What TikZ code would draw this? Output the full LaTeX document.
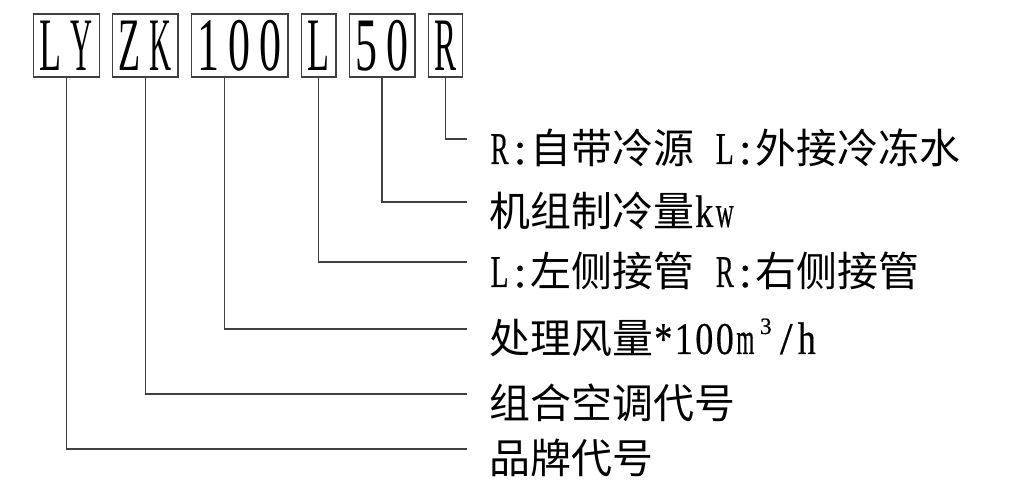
\documentclass[tikz,border=0pt]{standalone}
\usepackage{fontspec}
\usepackage{graphicx}
\setmainfont{Liberation Serif}
\newfontfamily\zhfont{Noto Sans CJK SC}
\newfontfamily\codefont{Liberation Serif}
\newfontfamily\latnfont{Liberation Serif}[Scale=1.11,FakeBold=0.5]
\usetikzlibrary{positioning}

% every letter sits in a cell of its own (half-width look),
% squeezed when it is wider than the cell allows
\newcommand\fitcell[3]{\sbox0{#3}\ifdim\wd0>#2\relax
  \makebox[#1]{\resizebox{#2}{\height}{#3}}\else\makebox[#1]{#3}\fi}
\ExplSyntaxOn
\NewDocumentCommand\boxtext{m}{\tl_map_inline:nn{#1}{\fitcell{0.62cm}{0.44cm}{\codefont ##1}}}
\NewDocumentCommand\lat{m}{\tl_map_inline:nn{#1}{\fitcell{0.41cm}{0.36cm}{\latnfont ##1}}}
\ExplSyntaxOff
\newcommand\cubed{\makebox[0.41cm]{\latnfont\fontsize{12}{12}\selectfont\raisebox{0.4cm}{3}}}

\begin{document}
\begin{tikzpicture}[
  x=0.02cm, y=-0.02cm,
  code/.style={draw=black!75, line width=0.8pt, minimum height=1.26cm,
    inner sep=0pt, inner xsep=1pt, font=\fontsize{43}{50}\selectfont},
  lbl/.style={font=\zhfont\fontsize{23.3}{28}\selectfont, inner sep=0pt, anchor=base west},
  link/.style={draw=black!75, line width=0.8pt}
]
\useasboundingbox (0,0) rectangle (1024,500);

% Code boxes in one row
\node[code, anchor=west] (brand) at (33,45.5) {\boxtext{LY}};
\node[code, right=0.24cm of brand] (series) {\boxtext{ZK}};
\node[code, right=0.24cm of series] (airflow) {\boxtext{100}};
\node[code, right=0.24cm of airflow] (pipe) {\boxtext{L}};
\node[code, right=0.24cm of pipe] (cooling) {\boxtext{50}};
\node[code, right=0.24cm of cooling] (source) {\boxtext{R}};

% Ends of the leader lines
\coordinate (sourceend) at (467,139);
\coordinate (coolingend) at (467,202);
\coordinate (pipeend) at (467,262);
\coordinate (airflowend) at (467,329);
\coordinate (seriesend) at (467,394);
\coordinate (brandend) at (467,449);

% Explanations
\node[lbl] (sourcetxt) at ([xshift=0.44cm, yshift=-0.5cm]sourceend) {\lat{R:}自带冷源\lat{{\ }L:}外接冷冻水};
\node[lbl] (coolingtxt) at ([xshift=0.44cm, yshift=-0.5cm]coolingend) {机组制冷量\lat{kw}};
\node[lbl] (pipetxt) at ([xshift=0.44cm, yshift=-0.5cm]pipeend) {\lat{L:}左侧接管\lat{{\ }R:}右侧接管};
\node[lbl] (airflowtxt) at ([xshift=0.44cm, yshift=-0.5cm]airflowend) {处理风量\lat{*100m}\cubed\lat{/h}};
\node[lbl] (seriestxt) at ([xshift=0.44cm, yshift=-0.5cm]seriesend) {组合空调代号};
\node[lbl] (brandtxt) at ([xshift=0.44cm, yshift=-0.5cm]brandend) {品牌代号};

% Leader lines
\draw[link] (source.south) |- (sourceend);
\draw[link] (cooling.south) |- (coolingend);
\draw[link] (pipe.south) |- (pipeend);
\draw[link] ([xshift=-0.3cm]airflow.south) |- (airflowend);
\draw[link] (series.south) |- (seriesend);
\draw[link] (brand.south) |- (brandend);

\end{tikzpicture}
\end{document}
